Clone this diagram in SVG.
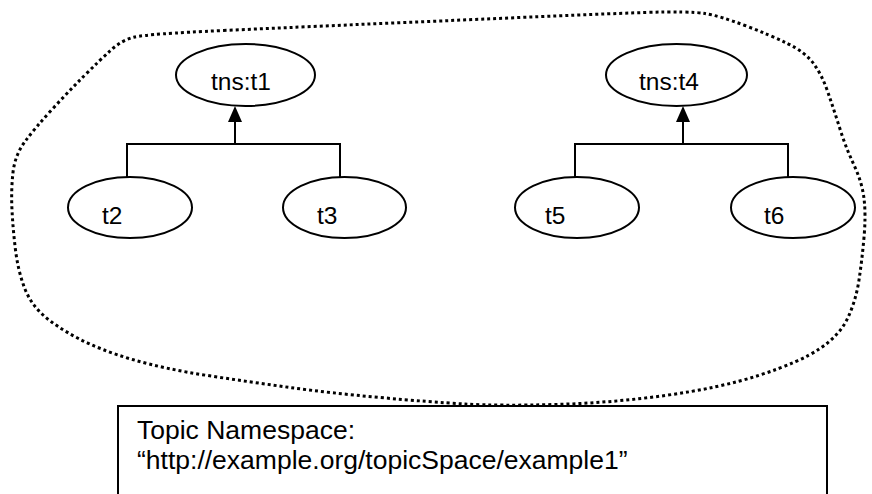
<svg xmlns="http://www.w3.org/2000/svg" width="872" height="494" viewBox="0 0 872 494">
<style>
.node ellipse{fill:#fff;stroke:#000;stroke-width:2}
text{font-family:"Liberation Sans",Arial,sans-serif;font-size:24.5px;fill:#000}
.ns text{font-size:26.5px}
.conn{fill:none;stroke:#000;stroke-width:2}
.blob{fill:none;stroke:#000;stroke-width:3;stroke-dasharray:3 3}
</style>
<rect width="872" height="494" fill="#fff"/>
<path id="space" class="blob" d="M 223.5,30.5 Q 300,27 370,24 Q 440,21 520,17.5 Q 600,14 645,12.5 Q 690,11 705,13.5 Q 720,16 745,25.5 Q 770,35 787.5,43.5 Q 805,52 813.5,63.5 Q 822,75 828,92.5 Q 834,110 840,129 Q 846,148 854,165 Q 862,182 864,198.5 Q 866,215 864,237.5 Q 862,260 859,280 Q 856,300 848,317.5 Q 840,335 820,348.5 Q 800,362 760,375 Q 720,388 665,395.5 Q 610,403 555,404.5 Q 500,406 465,404 Q 430,402 380,397.5 Q 330,393 290,387.5 Q 250,382 207.5,375.5 Q 165,369 132.5,359.5 Q 100,350 77.5,338 Q 55,326 42.5,314.5 Q 30,303 24,286.5 Q 18,270 15.5,250 Q 13,230 12,210 Q 11,190 13,172.5 Q 15,155 25,141.5 Q 35,128 51.5,110 Q 68,92 84,76 Q 100,60 111,50 Q 122,40 134.5,37 Q 147,34 223.5,30.5 Z"/>
<g id="connectors">
<path class="conn" d="M127,177 V144 H340 V177 M235,144 V121"/>
<path class="conn" d="M575,177 V144 H788 V177 M683,144 V121"/>
<path d="M228,122 L235,106 L242,122 Z" fill="#000"/>
<path d="M676,122 L683,106 L690,122 Z" fill="#000"/>
</g>
<g id="t1" class="node"><ellipse cx="245.5" cy="75" rx="69.5" ry="31"/><text x="211" y="90">tns:t1</text></g>
<g id="t2" class="node"><ellipse cx="130" cy="207.5" rx="62" ry="30.5"/><text x="102" y="224">t2</text></g>
<g id="t3" class="node"><ellipse cx="344.5" cy="207.5" rx="61.5" ry="30.5"/><text x="317" y="224">t3</text></g>
<g id="t4" class="node"><ellipse cx="676.5" cy="75" rx="70.5" ry="31"/><text x="639" y="90">tns:t4</text></g>
<g id="t5" class="node"><ellipse cx="577" cy="207.5" rx="62" ry="30.5"/><text x="545" y="224">t5</text></g>
<g id="t6" class="node"><ellipse cx="793" cy="207.5" rx="62" ry="30.5"/><text x="764" y="224">t6</text></g>
<g id="namespace" class="ns">
<path d="M118,494 V406 H827 V494" fill="#fff" stroke="#000" stroke-width="2"/>
<text x="137" y="439">Topic Namespace:</text>
<text x="137" y="469">“http://example.org/topicSpace/example1”</text>
</g>
</svg>
